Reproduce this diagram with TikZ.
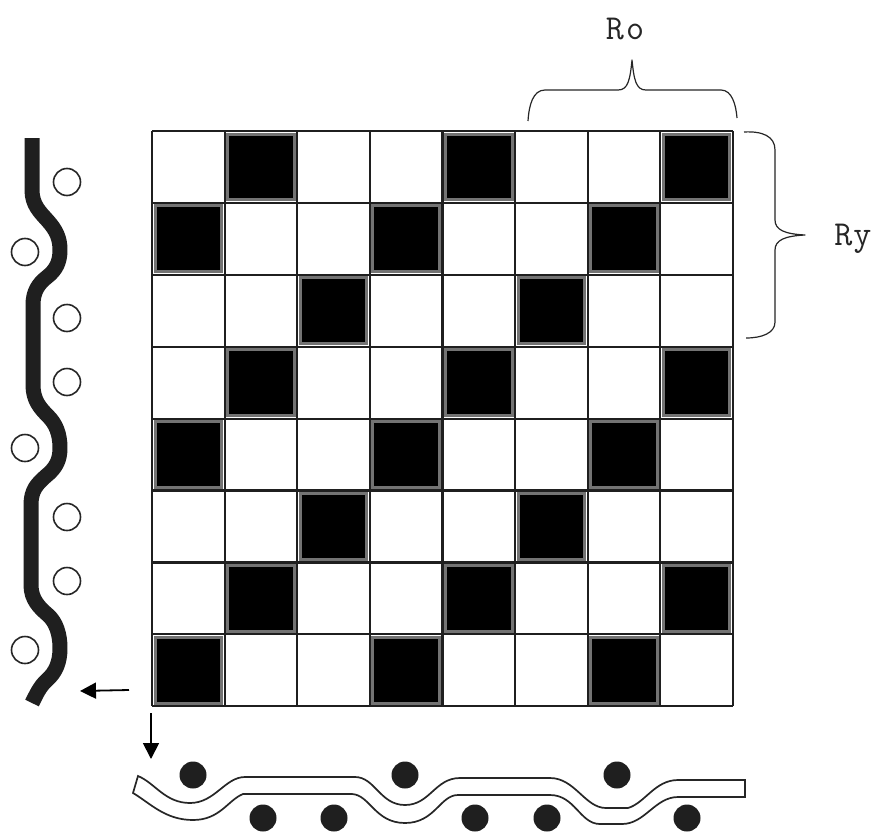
\documentclass[tikz,border=0pt]{standalone}
\usetikzlibrary{arrows.meta}
\tikzset{
  gridline/.style={line width=2.2pt,draw=black!88},
  darkcell/.style={fill=black,draw=black!55,line width=3pt},
  cord/.style={line width=15pt,draw=black!88,line join=round},
  openbead/.style={circle,draw=black!85,line width=1.6pt,fill=white,minimum size=27pt,inner sep=0pt},
  solidbead/.style={circle,fill=black!88,minimum size=27pt,inner sep=0pt},
  ribbon/.style={line width=1.7pt,draw=black!85,fill=white,line join=miter},
  pointer/.style={line width=1.8pt,-{Triangle[length=16pt,width=16pt]}},
  bracket/.style={line width=1.2pt,draw=black!85,line join=round},
  tag/.style={font=\ttfamily\fontsize{35}{38}\selectfont,inner sep=0pt,text=black!85}
}
\begin{document}
\begin{tikzpicture}[x=1pt,y=-1pt]
\useasboundingbox (0,0) rectangle (874,832);
\fill[white] (0,0) rectangle (874,832);
% black cells
\def\cw{72.6}\def\ch{71.9}
\foreach \r/\clist in {0/{1,4,7},1/{0,3,6},2/{2,5},3/{1,4,7},4/{0,3,6},5/{2,5},6/{1,4,7},7/{0,3,6}}{
  \foreach \c in \clist {
    \draw[darkcell] ({152+\c*\cw+3},{131+\r*\ch+3}) rectangle ({152+(\c+1)*\cw-3},{131+(\r+1)*\ch-3});
  }
}
% grid lines
\foreach \i in {0,...,8}{
  \draw[gridline] ({152+\i*\cw},131) -- ({152+\i*\cw},706);
  \draw[gridline] (152,{131+\i*\ch}) -- (733,{131+\i*\ch});
}
% left cord
\draw[cord] (32,138) -- (32,190)
  .. controls (32,205) and (40,212) .. (48,221)
  .. controls (56,230) and (60,238) .. (60,250)
  .. controls (60,262) and (56,270) .. (47,277)
  .. controls (38,284) and (33,292) .. (33,305)
  -- (33,385)
  .. controls (33,400) and (40,408) .. (48,416)
  .. controls (56,424) and (60,434) .. (60,448)
  .. controls (60,460) and (56,468) .. (46,476)
  .. controls (37,484) and (31,490) .. (31,505)
  -- (31,585)
  .. controls (31,600) and (40,608) .. (48,615)
  .. controls (56,622) and (60,634) .. (60,648)
  .. controls (60,662) and (56,672) .. (47,680)
  .. controls (40,686) and (36,695) .. (32,703);
% open beads
\foreach \n/\x/\y in {a/67/182,b/25/252,c/67/318,d/67/382,e/25/448,f/67/517,g/67/581,h/25/650}{
  \node[openbead] (open\n) at (\x,\y) {};
}
% bottom ribbon
\draw[ribbon] (138,776) .. controls (155,783) and (165,803) .. (190,803)
  .. controls (215,803) and (225,777) .. (245,777) -- (355,777)
  .. controls (375,777) and (380,805) .. (405,805)
  .. controls (430,805) and (435,778) .. (460,778) -- (550,778)
  .. controls (575,778) and (585,808) .. (606,808) -- (628,808)
  .. controls (645,803) and (655,780) .. (678,780) -- (745,780) -- (745,797) -- (678,797)
  .. controls (655,797) and (645,824) .. (622,824) -- (600,824)
  .. controls (580,824) and (575,795) .. (550,795) -- (458,795)
  .. controls (440,795) and (435,823) .. (405,823)
  .. controls (375,823) and (370,795) .. (352,794) -- (243,794)
  .. controls (228,800) and (220,820) .. (193,820)
  .. controls (165,820) and (150,803) .. (133,793) -- cycle;
% solid beads
\foreach \n/\x/\y in {a/193/775,b/263/818,c/334/818,d/405/775,e/475/818,f/547/818,g/617/775,h/687/818}{
  \node[solidbead] (solid\n) at (\x,\y) {};
}
% arrows
\coordinate (lefttail) at (129,690);
\coordinate (lefthead) at (80,691);
\coordinate (downtail) at (151,713);
\coordinate (downhead) at (151,759);
\draw[pointer] (lefttail) -- (lefthead);
\draw[pointer] (downtail) -- (downhead);
% braces
\draw[bracket] (528,121) .. controls (529,105) and (533,90) .. (545,90) -- (618,90) .. controls (628,90) and (630,80) .. (632,60) .. controls (634,80) and (636,90) .. (646,90) -- (721,90) .. controls (732,90) and (736,105) .. (737,118);
\draw[bracket] (744,132) .. controls (762,131) and (775,136) .. (775,150) -- (775,220) .. controls (775,230) and (785,234) .. (805,235) .. controls (785,236) and (775,240) .. (775,250) -- (775,322) .. controls (775,333) and (762,338) .. (746,338);
% labels
\node[tag] (ro) at (625,29) {R\kern2pt o};
\node[tag] (ry) at (853,239) {R\kern1pt y};
\end{tikzpicture}
\end{document}
